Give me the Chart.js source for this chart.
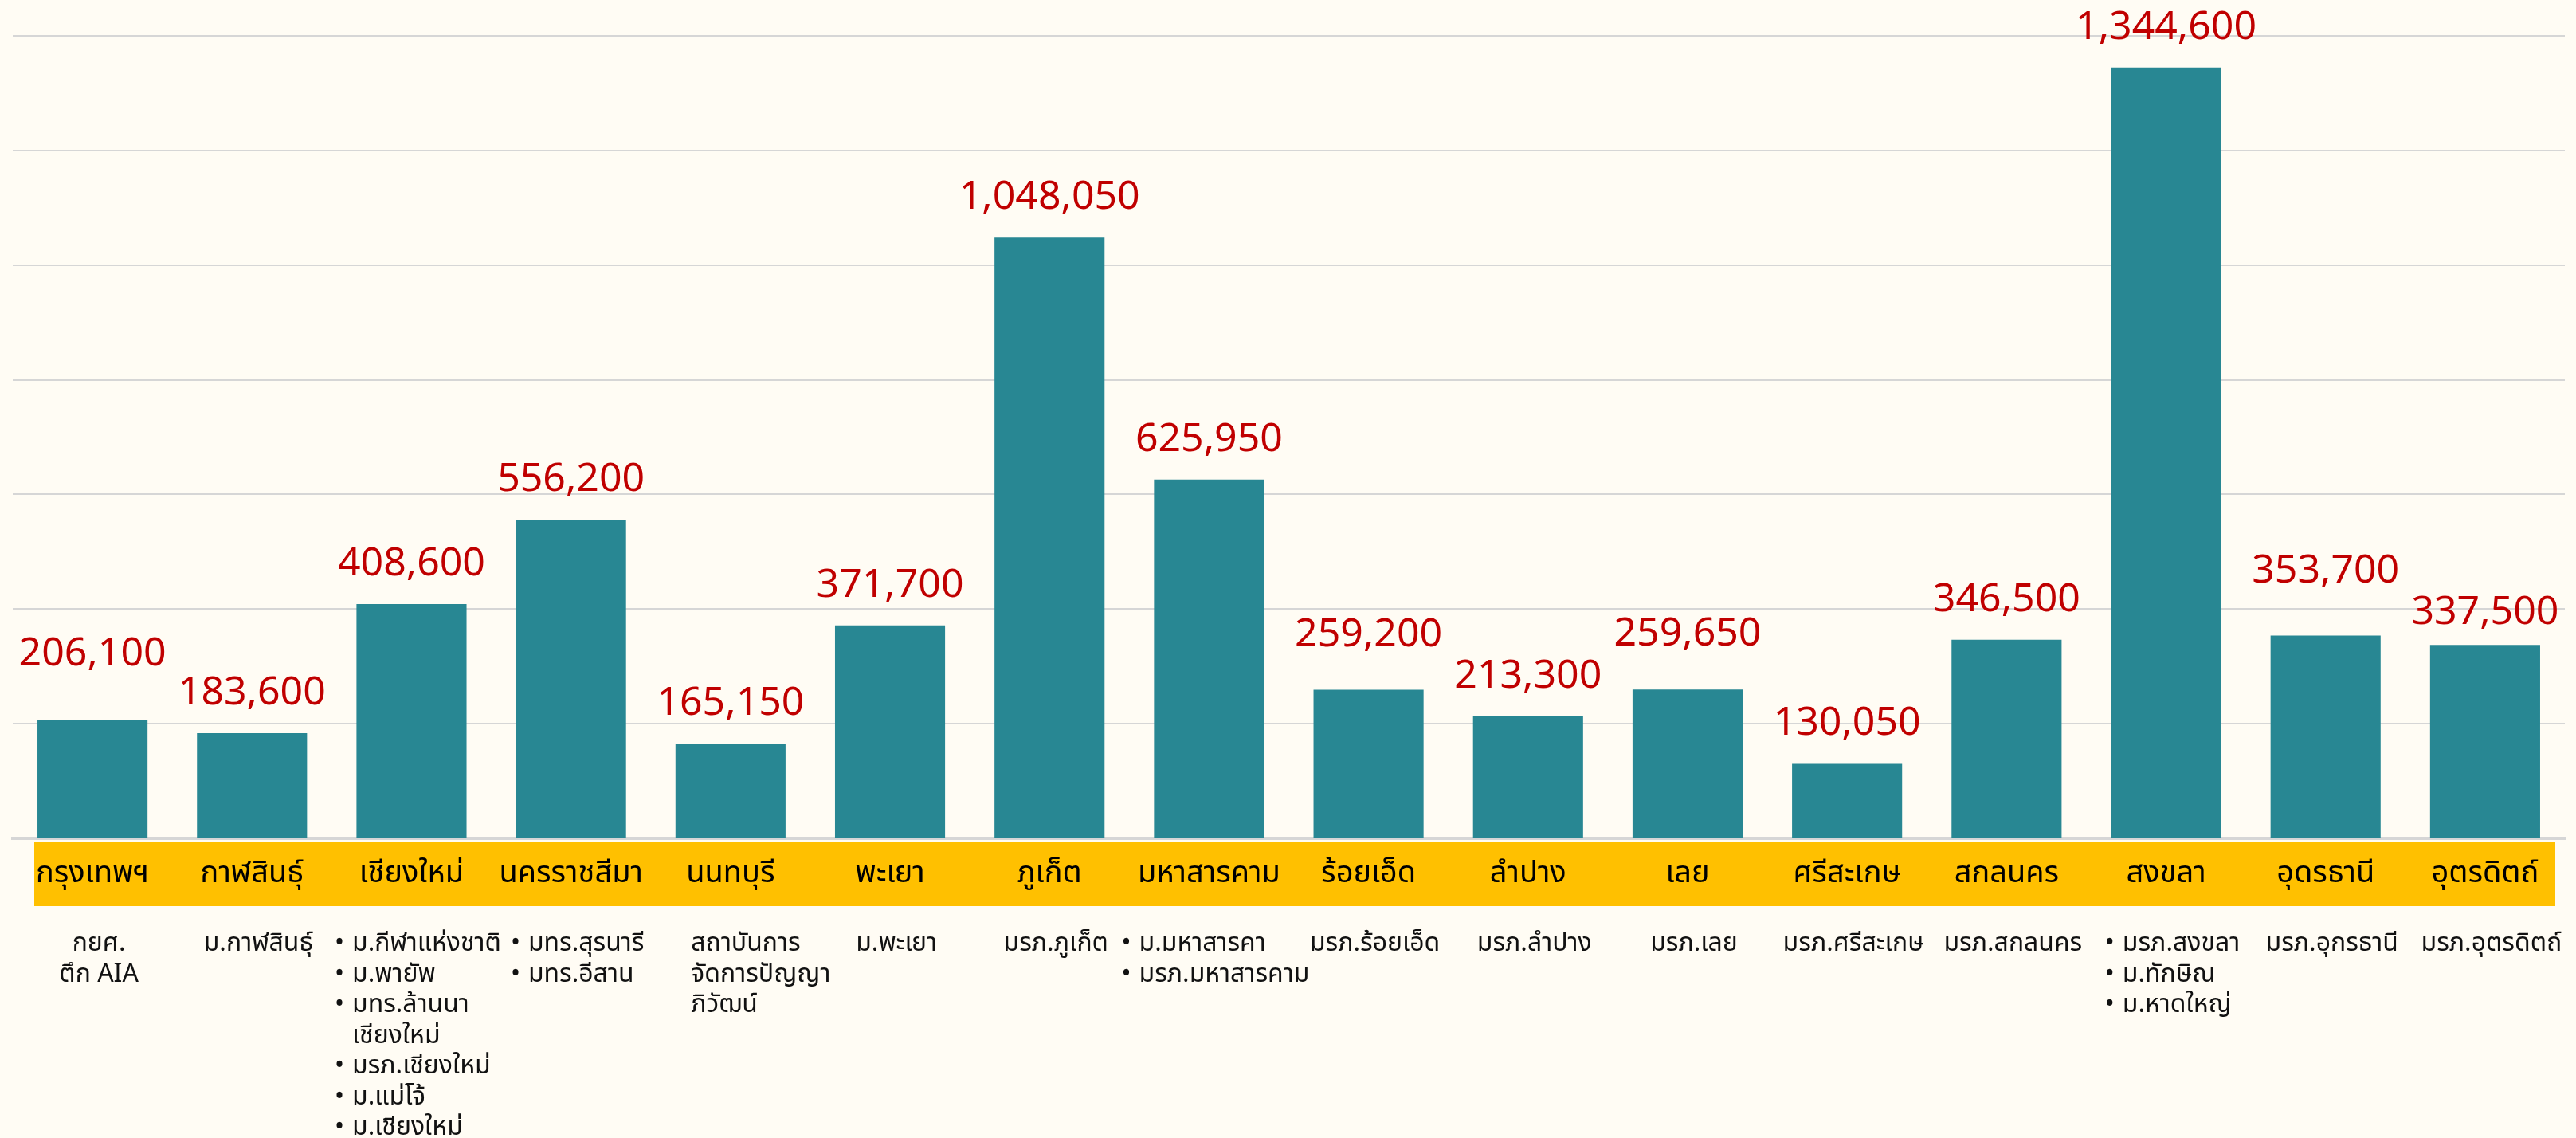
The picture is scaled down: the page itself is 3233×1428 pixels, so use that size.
<!DOCTYPE html>
<html lang="th">
<head>
<meta charset="utf-8">
<title>งบประมาณรายจังหวัด</title>
<script src="https://cdn.jsdelivr.net/npm/chart.js@4.4.1/dist/chart.umd.min.js"></script>
<style>
    html, body { margin: 0; padding: 0; background: #fffcf4; }
    #wrap { width: 3233px; height: 1428px; }
    canvas { display: block; }
</style>
</head>
<body>
<div id="wrap"><canvas id="provinceChart" width="3233" height="1428"></canvas></div>
<script>
// จังหวัด (แถบสีส้ม)
const provinces = [
    'กรุงเทพฯ', 'กาฬสินธุ์', 'เชียงใหม่', 'นครราชสีมา', 'นนทบุรี', 'พะเยา', 'ภูเก็ต', 'มหาสารคาม',
    'ร้อยเอ็ด', 'ลำปาง', 'เลย', 'ศรีสะเกษ', 'สกลนคร', 'สงขลา', 'อุดรธานี', 'อุตรดิตถ์'
];

// ค่าของแต่ละแท่ง
const amounts = [
    206100, 183600, 408600, 556200, 165150, 371700, 1048050, 625950,
    259200, 213300, 259650, 130050, 346500, 1344600, 353700, 337500
];

// สถาบันใต้แถบจังหวัด
const institutions = [
    ['กยศ.', 'ตึก AIA'],
    ['ม.กาฬสินธุ์'],
    ['• ม.กีฬาแห่งชาติ', '• ม.พายัพ', '• มทร.ล้านนา', '  เชียงใหม่', '• มรภ.เชียงใหม่', '• ม.แม่โจ้', '• ม.เชียงใหม่'],
    ['• มทร.สุรนารี', '• มทร.อีสาน'],
    ['สถาบันการ', 'จัดการปัญญา', 'ภิวัฒน์'],
    ['ม.พะเยา'],
    ['มรภ.ภูเก็ต'],
    ['• ม.มหาสารคา', '• มรภ.มหาสารคาม'],
    ['มรภ.ร้อยเอ็ด'],
    ['มรภ.ลำปาง'],
    ['มรภ.เลย'],
    ['มรภ.ศรีสะเกษ'],
    ['มรภ.สกลนคร'],
    ['• มรภ.สงขลา', '• ม.ทักษิณ', '• ม.หาดใหญ่'],
    ['มรภ.อุกรธานี'],
    ['มรภ.อุตรดิตถ์']
];

// แกน y (เส้นกริด)
const yMax = 1400000;
const yStep = 200000;

// ยกป้ายตัวเลขบางอันขึ้น/ลง เหมือนต้นฉบับ
const labelLift = [33, 0, 0, 0, 0, 0, 0, 0, 19, 0, 19, 0, 0, 0, 31, -10];
// การจัดแนวรายชื่อ: center = กึ่งกลางทุกบรรทัด, block = ชิดซ้ายเป็นก้อน
const institutionAlign = [
    'center', 'center', 'block', 'block', 'block', 'center', 'center', 'block',
    'center', 'center', 'center', 'center', 'center', 'block', 'center', 'center'
];

const thaiFont = '"Noto Sans Thai", "Noto Sans Thai UI", "Noto Sans", sans-serif';

// ป้ายตัวเลขสีแดงเหนือแท่ง
const valueLabels = {
    id: 'valueLabels',
    afterDatasetsDraw(chart) {
        const ctx = chart.ctx;
        const bars = chart.getDatasetMeta(0).data;
        ctx.save();
        ctx.font = '50px "Noto Sans", sans-serif';
        ctx.fillStyle = '#c00000';
        ctx.textAlign = 'center';
        ctx.textBaseline = 'alphabetic';
        bars.forEach((bar, i) => {
            ctx.fillText(amounts[i].toLocaleString('en-US'), bar.x, bar.y - 36 - labelLift[i]);
        });
        ctx.restore();
    }
};

// แถบสีส้ม + ชื่อจังหวัด + รายชื่อสถาบัน
const provinceBand = {
    id: 'provinceBand',
    afterDraw(chart) {
        const { ctx, chartArea } = chart;
        const x = chart.scales.x;
        const bandTop = chartArea.bottom + 5;

        ctx.save();
        ctx.fillStyle = '#ffc000';
        ctx.fillRect(chartArea.left + 27, bandTop, chartArea.right - chartArea.left - 39, 80);

        ctx.fillStyle = '#000000';
        ctx.font = '38px ' + thaiFont;
        ctx.textAlign = 'center';
        ctx.textBaseline = 'middle';
        provinces.forEach((p, i) => {
            ctx.fillText(p, x.getPixelForValue(i), bandTop + 42);
        });

        ctx.font = '32px ' + thaiFont;
        ctx.fillStyle = '#111111';
        const indent = 22;
        const firstLine = chartArea.bottom + 135;
        const lineStep = 38.5;
        const strip = l => l.replace(/^[•\s]+/, '');
        institutions.forEach((lines, i) => {
            const cx = x.getPixelForValue(i) + 8;
            if (institutionAlign[i] === 'center') {
                ctx.textAlign = 'center';
                lines.forEach((l, k) => ctx.fillText(l, cx, firstLine + k * lineStep));
                return;
            }
            // ก้อนข้อความชิดซ้าย วางกึ่งกลางหมวด
            const widths = lines.map(l => {
                if (l.startsWith('•') || l.startsWith(' ')) {
                    return indent + ctx.measureText(strip(l)).width;
                }
                return ctx.measureText(l).width;
            });
            const left = cx - Math.max(...widths) / 2 + (lines[0].startsWith('•') ? 0 : 30);
            ctx.textAlign = 'left';
            lines.forEach((l, k) => {
                const y = firstLine + k * lineStep;
                if (l.startsWith('•')) {
                    ctx.fillText('•', left, y);
                    ctx.fillText(strip(l), left + indent, y);
                } else if (l.startsWith(' ')) {
                    ctx.fillText(l.trim(), left + indent, y);
                } else {
                    ctx.fillText(l, left, y);
                }
            });
        });
        ctx.restore();
    }
};

new Chart(document.getElementById('provinceChart'), {
    type: 'bar',
    data: {
        labels: provinces,
        datasets: [{
            data: amounts,
            backgroundColor: '#288793',
            borderWidth: 0,
            categoryPercentage: 1,
            barPercentage: 0.69
        }]
    },
    options: {
        responsive: false,
        animation: false,
        layout: { padding: { top: 45, left: 16, right: 14, bottom: 0 } },
        plugins: {
            legend: { display: false },
            tooltip: { enabled: false }
        },
        scales: {
            x: {
                grid: { display: false, drawTicks: false },
                border: { display: true, color: '#d6d6d6', width: 4 },
                ticks: { display: false },
                afterFit(scale) { scale.height = 376; }
            },
            y: {
                min: 0,
                max: yMax,
                ticks: { display: false, stepSize: yStep },
                grid: { color: '#d6d6d6', lineWidth: 2, drawTicks: false },
                border: { display: false },
                afterFit(scale) { scale.width = 0; }
            }
        }
    },
    plugins: [valueLabels, provinceBand]
});
</script>
</body>
</html>
